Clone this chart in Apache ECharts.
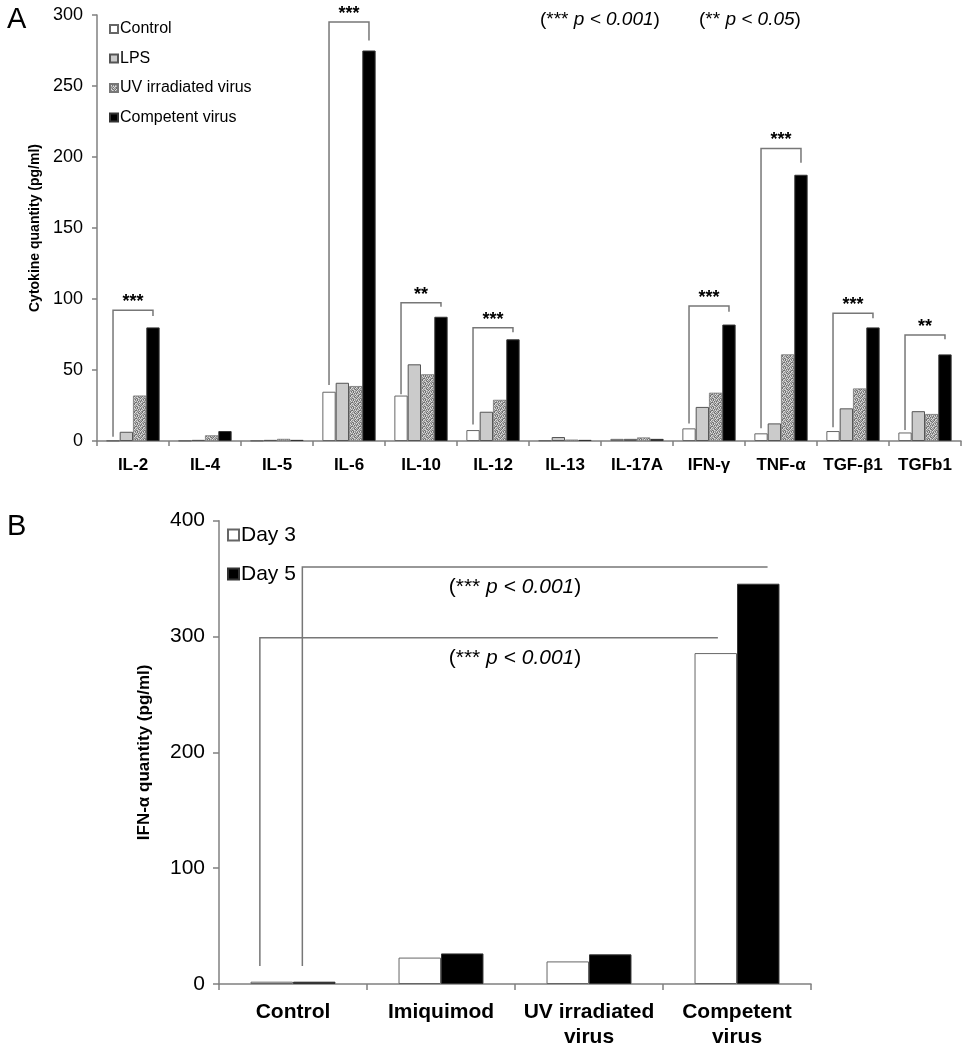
<!DOCTYPE html>
<html>
<head>
<meta charset="utf-8">
<script src="https://cdn.jsdelivr.net/npm/echarts@6/dist/echarts.min.js"></script>
<style>
html,body{margin:0;padding:0;background:#fff;}
#chart{width:966px;height:1050px;}
</style>
</head>
<body>
<div id="chart"></div>
<script>
// ---------- Panel A data ----------
const categoriesA = ['IL-2','IL-4','IL-5','IL-6','IL-10','IL-12','IL-13','IL-17A','IFN-γ','TNF-α','TGF-β1','TGFb1'];
const controlA   = [0.3, 0.3, 0.3, 34.7, 32, 7.7, 0.5, 1.5, 8.9, 5.4, 7, 6];
const lpsA       = [6.5, 0.8, 0.8, 41, 54, 20.6, 2.8, 1.5, 24, 12.4, 23, 21];
const uvA        = [32, 4, 1.5, 38.7, 47, 29, 1, 2.5, 34, 61, 37, 19];
const competentA = [80, 7, 0.8, 275, 87.5, 71.6, 0.8, 1.5, 82, 187.5, 80, 61];
const yTicksA = [0, 50, 100, 150, 200, 250, 300];

// significance brackets, panel A
const bracketCatA   = ['IL-2','IL-6','IL-10','IL-12','IFN-γ','TNF-α','TGF-β1','TGFb1'];
const bracketLowA   = [3, 39.4, 33, 11.7, 12.4, 9, 9.6, 7.7];
const bracketTopA   = [92, 295, 97.4, 79.8, 95, 206, 90, 74.6];
const bracketEndA   = [88, 282, 94.5, 76.5, 91, 196, 86.4, 71.6];
const bracketStarsA = ['***','***','**','***','***','***','***','**'];

// ---------- Panel B data ----------
const categoriesB = ['Control','Imiquimod','UV irradiated\nvirus','Competent\nvirus'];
const day3B = [2, 22.8, 19.5, 285.7];
const day5B = [2, 26.4, 25.6, 345.6];
const yTicksB = [0, 100, 200, 300, 400];

// significance brackets, panel B (0 = Day 3 bars, 1 = Day 5 bars)
const bracketSeriesB = [0, 1];
const bracketFromB   = [0, 0];
const bracketToB     = [3, 3];
const bracketLowB    = [15.6, 15.6];
const bracketTopB    = [299, 360];
const bracketTextValB = [281, 342.7];

// ---------- texture for UV irradiated virus ----------
function makePattern(){
  const rows = ['13021302','20313120','31202013','02130231','21302130','10231302','32013021','03120213'];
  const greys = ['#dcdcdc','#b4b4b4','#929292','#707070'];
  const c = document.createElement('canvas');
  c.width = 8; c.height = 8;
  const ctx = c.getContext('2d');
  for(let y=0;y<8;y++) for(let x=0;x<8;x++){
    ctx.fillStyle = greys[+rows[y][x]];
    ctx.fillRect(x,y,1,1);
  }
  return c;
}
const uvPattern = {image: makePattern(), repeat: 'repeat'};

const FONT = '"Liberation Sans", Arial, Helvetica, sans-serif';
const AXIS_COLOR = '#808080';
const GAP_A = 0.26, GAP_B = 0.426;

const chart = echarts.init(document.getElementById('chart'), null, {renderer:'canvas'});

const bracketDataA = bracketCatA.map((c,i)=>[categoriesA.indexOf(c), bracketLowA[i], bracketTopA[i], bracketEndA[i]]);
const bracketDataB = bracketSeriesB.map((s,i)=>[bracketFromB[i], bracketToB[i], s, bracketLowB[i], bracketTopB[i], bracketTextValB[i]]);

const noteRich = {
  a:{fontFamily:FONT, fontSize:19, fontWeight:'normal', color:'#000'},
  b:{fontFamily:FONT, fontSize:19, fontWeight:'normal', fontStyle:'italic', color:'#000'}
};

const option = {
  backgroundColor: '#fff',
  animation: false,
  textStyle: {fontFamily: FONT},
  title: [
    {text:'A', left: 2, top: 0, textStyle:{fontFamily:FONT, fontSize:29, fontWeight:'normal', color:'#000'}},
    {text:'B', left: 2, top: 507, textStyle:{fontFamily:FONT, fontSize:29, fontWeight:'normal', color:'#000'}},
    {text:'{a|(*** }{b|p < 0.001}{a|)}', left: 535, top: 5,
      textStyle:{fontWeight:'normal', rich:noteRich}},
    {text:'{a|(** }{b|p < 0.05}{a|)}', left: 694, top: 5,
      textStyle:{fontWeight:'normal', rich:noteRich}}
  ],
  legend: [
    {data:['Control','LPS','UV irradiated virus','Competent virus'], orient:'vertical', left:104, top:15,
     itemWidth:8, itemHeight:8, itemGap:11.5, icon:'rect',
     textStyle:{fontFamily:FONT, fontSize:16, color:'#000', lineHeight:18, padding:[0,0,0,-3]}},
    {data:['Day 3','Day 5'], orient:'vertical', left:222, top:518,
     itemWidth:11, itemHeight:11, itemGap:15, icon:'rect',
     textStyle:{fontFamily:FONT, fontSize:21, color:'#000', lineHeight:24, padding:[0,0,0,-3]}}
  ],
  grid: [
    {left:97, top:15, width:864, height:426},
    {left:219, top:520.7, width:592, height:467.6}
  ],
  xAxis: [
    {type:'category', gridIndex:0, data:categoriesA,
     axisLine:{lineStyle:{color:AXIS_COLOR, width:1.5}},
     axisTick:{show:true, length:5, alignWithLabel:false, lineStyle:{color:AXIS_COLOR, width:1.5}},
     axisLabel:{interval:0, margin:16, fontFamily:FONT, fontSize:17, fontWeight:'bold', color:'#000'}},
    {type:'category', gridIndex:1, data:categoriesB,
     axisLine:{lineStyle:{color:AXIS_COLOR, width:1.5}},
     axisTick:{show:true, length:6, alignWithLabel:false, lineStyle:{color:AXIS_COLOR, width:1.5}},
     axisLabel:{interval:0, margin:16, fontFamily:FONT, fontSize:21, fontWeight:'bold', color:'#000', lineHeight:25}}
  ],
  yAxis: [
    {type:'value', gridIndex:0, min:yTicksA[0], max:yTicksA[yTicksA.length-1], interval:yTicksA[1]-yTicksA[0],
     name:'Cytokine quantity (pg/ml)', nameLocation:'middle', nameGap:54,
     nameTextStyle:{fontFamily:FONT, fontSize:14, fontWeight:'bold', color:'#000'},
     axisLine:{show:true, lineStyle:{color:AXIS_COLOR, width:1.5}},
     axisTick:{show:true, length:5, lineStyle:{color:AXIS_COLOR, width:1.5}},
     splitLine:{show:false},
     axisLabel:{margin:14, fontFamily:FONT, fontSize:18, color:'#000'}},
    {type:'value', gridIndex:1, min:yTicksB[0], max:yTicksB[yTicksB.length-1], interval:yTicksB[1]-yTicksB[0],
     name:'IFN-α quantity (pg/ml)', nameLocation:'middle', nameGap:66,
     nameTextStyle:{fontFamily:FONT, fontSize:17, fontWeight:'bold', color:'#000'},
     axisLine:{show:true, lineStyle:{color:AXIS_COLOR, width:1.5}},
     axisTick:{show:true, length:6, lineStyle:{color:AXIS_COLOR, width:1.5}},
     splitLine:{show:false},
     axisLabel:{margin:14, fontFamily:FONT, fontSize:21, color:'#000'}}
  ],
  series: [
    {name:'Control', type:'bar', xAxisIndex:0, yAxisIndex:0, data:controlA, barGap:'0%', barCategoryGap:(GAP_A*100)+'%',
     itemStyle:{color:'#ffffff', borderColor:'#666', borderWidth:1}},
    {name:'LPS', type:'bar', xAxisIndex:0, yAxisIndex:0, data:lpsA, barGap:'0%', barCategoryGap:(GAP_A*100)+'%',
     itemStyle:{color:'#cbcbcb', borderColor:'#555', borderWidth:1}},
    {name:'UV irradiated virus', type:'bar', xAxisIndex:0, yAxisIndex:0, data:uvA, barGap:'0%', barCategoryGap:(GAP_A*100)+'%',
     itemStyle:{color:uvPattern, borderColor:'#777', borderWidth:0.8}},
    {name:'Competent virus', type:'bar', xAxisIndex:0, yAxisIndex:0, data:competentA, barGap:'0%', barCategoryGap:(GAP_A*100)+'%',
     itemStyle:{color:'#000', borderColor:'#333', borderWidth:1}},
    {name:'bracketsA', type:'custom', xAxisIndex:0, yAxisIndex:0, data:bracketDataA, clip:false, silent:true, z:5,
     renderItem:function(params, api){
       const ci = api.value(0);
       const c = api.coord([ci, 0]);
       const bw = api.size([1,0])[0]*(1-GAP_A)/4;
       const xl = c[0] - 1.5*bw, xr = c[0] + 1.5*bw;
       const yLow = api.coord([ci, api.value(1)])[1];
       const yTop = api.coord([ci, api.value(2)])[1];
       const yEnd = api.coord([ci, api.value(3)])[1];
       return {type:'group', children:[
         {type:'polyline', shape:{points:[[xl,yLow],[xl,yTop],[xr,yTop],[xr,yEnd]]},
          style:{stroke:'#777', lineWidth:1.5, fill:null}},
         {type:'text', x:(xl+xr)/2, y:yTop-8,
          style:{text:bracketStarsA[params.dataIndex], fill:'#000', font:'bold 18px '+FONT, textAlign:'center', textVerticalAlign:'middle'}}
       ]};
     }},
    {name:'Day 3', type:'bar', xAxisIndex:1, yAxisIndex:1, data:day3B, barGap:'0%', barCategoryGap:(GAP_B*100)+'%',
     itemStyle:{color:'#ffffff', borderColor:'#666', borderWidth:1}},
    {name:'Day 5', type:'bar', xAxisIndex:1, yAxisIndex:1, data:day5B, barGap:'0%', barCategoryGap:(GAP_B*100)+'%',
     itemStyle:{color:'#000', borderColor:'#333', borderWidth:1}},
    {name:'bracketsB', type:'custom', xAxisIndex:1, yAxisIndex:1, data:bracketDataB, clip:false, silent:true, z:5,
     renderItem:function(params, api){
       const c0 = api.value(0), c1 = api.value(1), s = api.value(2);
       const bw = api.size([1,0])[0]*(1-GAP_B)/2;
       const off = (s === 0 ? -0.5 : 0.5)*bw;
       const xl = api.coord([c0, 0])[0] + off - 0.28*bw;
       const xr = api.coord([c1, 0])[0] + off + (s === 0 ? 0.05 : 0.22)*bw;
       const yLow = api.coord([c0, api.value(3)])[1];
       const yTop = api.coord([c0, api.value(4)])[1];
       const yTxt = api.coord([c0, api.value(5)])[1];
       const xm = (api.coord([c0,0])[0] + api.coord([c1,0])[0])/2;
       return {type:'group', children:[
         {type:'polyline', shape:{points:[[xl,yLow],[xl,yTop],[xr,yTop]]},
          style:{stroke:'#777', lineWidth:1.5, fill:null}},
         {type:'text', x:xm, y:yTxt,
          style:{rich:{a:{font:'21px '+FONT, fill:'#000'}, b:{font:'italic 21px '+FONT, fill:'#000'}},
                 text:'{a|(*** }{b|p < 0.001}{a|)}', textAlign:'center', textVerticalAlign:'middle'}}
       ]};
     }}
  ]
};
chart.setOption(option);
</script>
</body>
</html>
